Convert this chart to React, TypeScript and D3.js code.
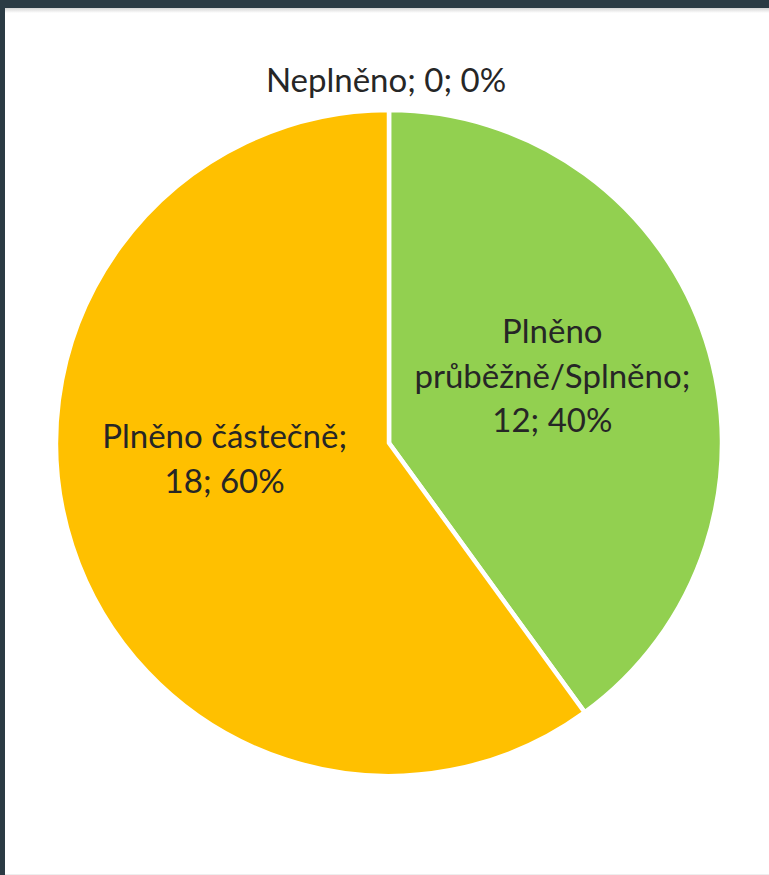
import React from "react";
import * as d3 from "d3";

const categories = ["Neplněno", "Plněno průběžně/Splněno", "Plněno částečně"];
const values = [0, 12, 18];
const colors = ["#5B9BD5", "#92D050", "#FFC000"];
// label lines per slice
const labelLines = [
  ["Neplněno; 0; 0%"],
  ["Plněno", "průběžně/Splněno;", "12; 40%"],
  ["Plněno částečně;", "18; 60%"],
];

const W = 769;
const H = 875;
const cx = 389;
const cy = 443;
const R = 333;
const FONT = "Lato, 'Open Sans', sans-serif";
const FS = 33;
const LH = 44.5;

export default function App() {
  const pie = d3.pie<number>().value((d) => d).sort(null);
  const arcs = pie(values);
  const arc = d3.arc<d3.PieArcDatum<number>>().innerRadius(0).outerRadius(R);

  // label anchor positions (Excel "best fit" approximations)
  const labelPos = arcs.map((a, i) => {
    if (values[i] === 0) {
      const [x, y] = d3
        .arc<d3.PieArcDatum<number>>()
        .innerRadius(R + 30)
        .outerRadius(R + 30)
        .centroid(a);
      return { x: x - 3, y: y };
    }
    const f = i === 1 ? 0.62 : 0.5;
    const [x, y] = d3
      .arc<d3.PieArcDatum<number>>()
      .innerRadius(R * f)
      .outerRadius(R * f)
      .centroid(a);
    if (i === 1) return { x: x - 33, y: y - 3 };
    return { x: x - 6, y: y - 35.5 };
  });

  return (
    <svg
      width={W}
      height={H}
      style={{ position: "absolute", left: 0, top: 0, display: "block" }}
    >
      <defs>
        <linearGradient id="shadow" x1="0" y1="0" x2="0" y2="1">
          <stop offset="0" stopColor="#d4d4d4" />
          <stop offset="1" stopColor="#ffffff" />
        </linearGradient>
      </defs>
      <rect x={0} y={0} width={W} height={H} fill="#2b3b44" />
      <rect x={5} y={8} width={W - 5} height={H - 8} fill="#ffffff" />
      <rect x={5} y={8} width={W - 5} height={5} fill="url(#shadow)" />
      <rect x={5} y={H - 1} width={W - 5} height={1} fill="#eeeeee" />
      <g transform={`translate(${cx},${cy})`}>
        {arcs.map((a, i) => (
          <path
            key={categories[i]}
            d={arc(a) || ""}
            fill={colors[i]}
            stroke="#ffffff"
            strokeWidth={4.5}
            strokeLinejoin="round"
          />
        ))}
        {arcs.map((a, i) => {
          const p = labelPos[i];
          const lines = labelLines[i];
          const n = lines.length;
          return (
            <text
              key={"l" + i}
              fontFamily={FONT}
              fontSize={FS}
              fill="#262626"
              textAnchor="middle"
            >
              {lines.map((t, j) => (
                <tspan
                  key={j}
                  x={p.x}
                  y={p.y + (j - (n - 1) / 2) * LH}
                  dy="0.35em"
                >
                  {t}
                </tspan>
              ))}
            </text>
          );
        })}
      </g>
    </svg>
  );
}
